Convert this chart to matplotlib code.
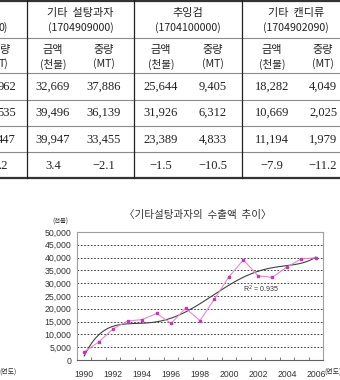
import numpy as np
import matplotlib
matplotlib.use('Agg')
import matplotlib.pyplot as plt
from matplotlib.ticker import FuncFormatter, MultipleLocator

plt.rcParams['font.family'] = ['Noto Sans CJK KR', 'DejaVu Sans']

# 표 데이터
groups = ['기타  설탕과자', '추잉검', '기타  캔디류']
codes = ['(1704909000)', '(1704100000)', '(1704902090)']
sub_heads = [('금액', '(천불)'), ('중량', '(MT)')]
sugar_amt = ['32,669', '39,496', '39,947', '3.4']
sugar_wt = ['37,886', '36,139', '33,455', '−2.1']
gum_amt = ['25,644', '31,926', '23,389', '−1.5']
gum_wt = ['9,405', '6,312', '4,833', '−10.5']
candy_amt = ['18,282', '10,669', '11,194', '−7.9']
candy_wt = ['4,049', '2,025', '1,979', '−11.2']
left_cut = ['962', '535', '447', '.2']   # 왼쪽에서 잘린 열

# 그래프 데이터 (천불)
years = list(range(1990, 2007))
export = [3200, 7000, 12200, 15200, 15800, 18200, 14300, 20200, 15400,
          23800, 32500, 39100, 32900, 32300, 36300, 39500, 39947]

fig = plt.figure(figsize=(3.4, 3.8), dpi=100)

# ---- 표 (픽셀 좌표) ----
tab = fig.add_axes([0, 0, 1, 1])
tab.set_xlim(0, 340)
tab.set_ylim(380, 0)
tab.axis('off')

row_y = [0, 37.5, 73.3, 99.5, 125.7, 152.2, 178.3]
text_y = [87, 113, 140, 166]
vlines = [26.7, 134.3, 242.3]
col_x = [53, 104, 161, 213, 272, 323]

tab.plot([0, 340], [0.8, 0.8], color='#333333', lw=1.6)
tab.plot([0, 340], [row_y[-1], row_y[-1]], color='#333333', lw=1.6)
for yy in row_y[1:-1]:
    tab.plot([0, 340], [yy, yy], color='#8a8a8a', lw=0.8)
for xx in vlines:
    tab.plot([xx, xx], [0, row_y[-1]], color='#222222', lw=0.9)

for i in range(3):
    cx = (vlines[i] + (vlines[i + 1] if i < 2 else 350)) / 2
    tab.text(cx, 13, groups[i], ha='center', va='center', fontsize=8, color='#222222')
    tab.text(cx, 28, codes[i], ha='center', va='center', fontsize=7.6, color='#222222')
for j, x in enumerate(col_x):
    h1, h2 = sub_heads[j % 2]
    tab.text(x, 50, h1, ha='center', va='center', fontsize=8, color='#222222')
    tab.text(x, 64, h2, ha='center', va='center', fontsize=7.6, color='#222222')

cols = [sugar_amt, sugar_wt, gum_amt, gum_wt, candy_amt, candy_wt]
for x, vals in zip(col_x, cols):
    for y, v in zip(text_y, vals):
        tab.text(x, y, v, ha='center', va='center', fontsize=9,
                 family='Liberation Serif', color='#222222')

tab.text(8, 28, '0)', ha='right', va='center', fontsize=7.6, color='#222222')
tab.text(9, 50, '량', ha='right', va='center', fontsize=8, color='#222222')
tab.text(8, 64, 'T)', ha='right', va='center', fontsize=7.6, color='#222222')
for y, v, rx in zip(text_y, left_cut, [16, 16, 16, 8]):
    tab.text(rx, y, v, ha='right', va='center', fontsize=9,
             family='Liberation Serif', color='#222222')

# ---- 그래프 ----
ax = fig.add_axes([77 / 340, 20 / 380, 246 / 340, 128 / 380])
x = np.array(years)
y = np.array(export)

# 다항식 추세선
coef = np.polyfit(x - 1998, y, 5)
xs = np.linspace(1990, 2006, 200)
ax.plot(xs, np.polyval(coef, xs - 1998), color='#404040', lw=0.8)
ax.plot(x, y, color='#e888cc', lw=0.8, marker='s', markersize=1.8,
        markerfacecolor='#cc33bb', markeredgecolor='#cc33bb')

ax.set_xlim(1989.5, 2006.5)
ax.set_ylim(0, 50000)
ax.yaxis.set_major_locator(MultipleLocator(5000))
ax.yaxis.set_major_formatter(FuncFormatter(lambda v, p: f'{int(v):,}'))
ax.set_xticks(years[::2])
ax.set_xticks(np.arange(1989.5, 2006.6, 1), minor=True)
ax.grid(axis='y', linestyle=(0, (2, 2)), color='#222222', lw=0.6)
ax.set_axisbelow(True)
for s in ax.spines.values():
    s.set_color('#a0a0a0')
    s.set_linewidth(0.8)
ax.spines['bottom'].set_color('#606060')
ax.tick_params(axis='x', which='major', length=0, pad=7, labelsize=6.2)
ax.tick_params(axis='x', which='minor', length=2.5, direction='in', color='#606060')
ax.tick_params(axis='y', length=0, pad=4, labelsize=6.3)
for lab in ax.get_xticklabels() + ax.get_yticklabels():
    lab.set_family('Liberation Sans')
    lab.set_color('#333333')

ax.text(2001, 26500, 'R$^2$ = 0.935', fontsize=5, family='Liberation Sans', color='#333333')

fig.text(198 / 340, 1 - 215 / 380, '〈기타설탕과자의  수출액  추이〉', ha='center', va='center',
         fontsize=7.6, color='#333333')
fig.text(60 / 340, 1 - 222 / 380, '(천불)', ha='center', va='center', fontsize=4.5, color='#333333')
fig.text(324 / 340, 1 - 372 / 380, '(연도)', ha='left', va='center', fontsize=5, color='#333333')
fig.text(17 / 340, 1 - 372 / 380, '(연도)', ha='right', va='center', fontsize=5, color='#333333')

fig.savefig('out.png', dpi=100)
